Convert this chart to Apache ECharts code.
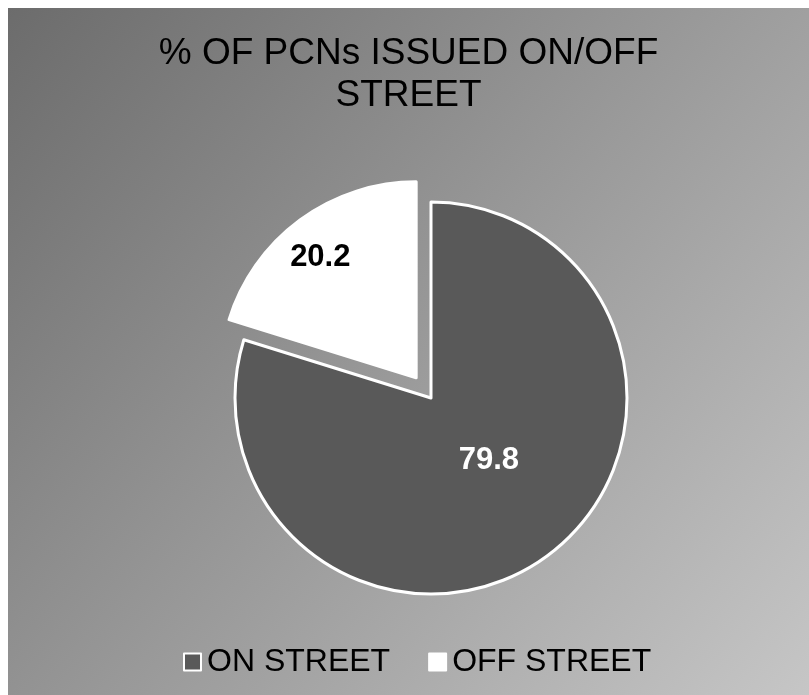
<!DOCTYPE html>
<html>
<head>
<meta charset="utf-8">
<script src="https://cdn.jsdelivr.net/npm/echarts@6/dist/echarts.min.js"></script>
<style>
	html, body { margin: 0; padding: 0; background: #ffffff; }
	#chart { position: absolute; left: 8px; top: 8px; width: 801px; height: 687px; }
</style>
</head>
<body>
<div id="chart"></div>
<script>
(function () {

	var TITLE      = '% OF PCNs ISSUED ON/OFF\nSTREET';
	var categories = ['ON STREET', 'OFF STREET'];
	var values     = [79.8, 20.2];
	var colors     = ['#595959', '#ffffff'];
	var labelColor = ['#ffffff', '#000000'];
	var exploded   = [false, true];

	var FONT = '"Liberation Sans", Arial, sans-serif';

	var chart = echarts.init(document.getElementById('chart'));

	var pieData = categories.map(function (name, i) {
		return {
			name: name,
			value: values[i],
			selected: exploded[i],
			itemStyle: { color: colors[i] },
			label: { color: labelColor[i] }
		};
	});

	chart.setOption({
		animation: false,
		graphic: [{
			type: 'rect', left: 0, top: 0, z: -10, silent: true,
			shape: { width: 801, height: 687 },
			style: {
				fill: new echarts.graphic.LinearGradient(0, 0, 1, 1, [
					{ offset: 0, color: '#6c6c6c' },
					{ offset: 1, color: '#c6c6c6' }
				])
			}
		}],
		title: {
			text: TITLE,
			left: 'center', top: 25,
			padding: [0, 0, 0, 8],
			textStyle: { fontFamily: FONT, fontSize: 37, fontWeight: 'normal', color: '#000000', lineHeight: 42 }
		},
		legend: {
			data: categories,
			left: 170, top: 633,
			icon: 'rect',
			itemWidth: 17, itemHeight: 17,
			itemGap: 38,
			textStyle: { fontFamily: FONT, fontSize: 32, color: '#000000', lineHeight: 32, padding: [0, 0, 0, 1] }
		},
		series: [{
			type: 'pie',
			center: [423, 390],
			radius: 196,
			startAngle: 90,
			clockwise: true,
			selectedMode: 'multiple',
			selectedOffset: 25,
			avoidLabelOverlap: false,
			itemStyle: { borderColor: '#ffffff', borderWidth: 3 },
			label: {
				show: true, position: 'inside',
				formatter: '{c}',
				fontFamily: FONT, fontSize: 31, fontWeight: 'bold'
			},
			labelLine: { show: false },
			emphasis: { disabled: true },
			labelLayout: function (params) {
				if (params.dataIndex === 1) return { dx: -36, dy: -39 };
				return { dx: -2, dy: -19 };
			},
			data: pieData
		}]
	});

})();
</script>
</body>
</html>
